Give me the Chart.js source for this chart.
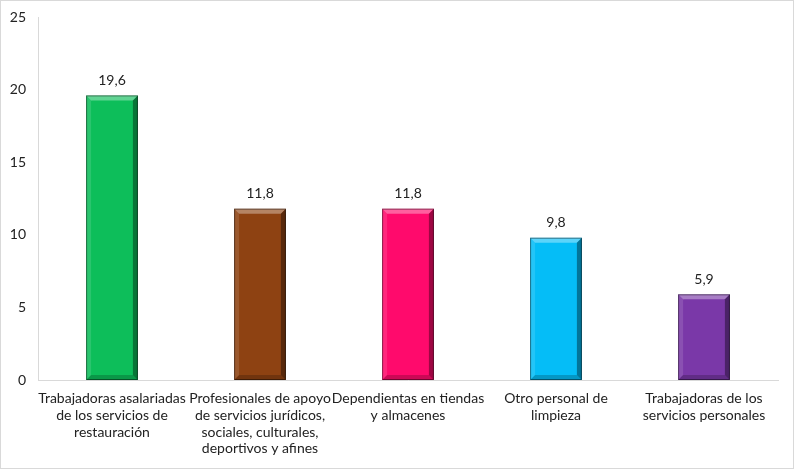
<!DOCTYPE html>
<html>
<head>
<meta charset="utf-8">
<script src="https://cdn.jsdelivr.net/npm/chart.js@4"></script>
<style>
  html, body { margin: 0; padding: 0; background: #fff; }
  .frame { width: 792px; height: 467px; border: 1px solid #d9d9d9; position: relative; }
</style>
</head>
<body>
<div class="frame">
  <canvas id="chart" width="792" height="467"></canvas>
</div>
<script>
const categories = [
  ['Trabajadoras asalariadas', 'de los servicios de', 'restauración'],
  ['Profesionales de apoyo', 'de servicios jurídicos,', 'sociales, culturales,', 'deportivos y afines'],
  ['Dependientas en tiendas', 'y almacenes'],
  ['Otro personal de', 'limpieza'],
  ['Trabajadoras de los', 'servicios personales']
];
const values = [19.6, 11.8, 11.8, 9.8, 5.9];
const barColors = ['#0DBE5A', '#8E4212', '#FF0A6C', '#05BDF7', '#7A38A8'];
const yTicks = [0, 5, 10, 15, 20, 25];

// light / dark edges on each bar, like the bevelled bars in the original
const bevelPlugin = {
  id: 'bevel',
  afterDatasetsDraw(chart) {
    const ctx = chart.ctx;
    chart.getDatasetMeta(0).data.forEach(bar => {
      const l = bar.x - bar.width / 2, r = bar.x + bar.width / 2;
      const t = bar.y, b = bar.base, s = 5;
      ctx.save();
      const poly = (pts, fill) => {
        ctx.beginPath();
        ctx.moveTo(pts[0][0], pts[0][1]);
        pts.slice(1).forEach(p => ctx.lineTo(p[0], p[1]));
        ctx.closePath();
        ctx.fillStyle = fill;
        ctx.fill();
      };
      poly([[l, t], [r, t], [r - s, t + s], [l + s, t + s]], 'rgba(255,255,255,0.35)');
      poly([[l, t], [l + s, t + s], [l + s, b - s], [l, b]], 'rgba(255,255,255,0.12)');
      poly([[r, t], [r, b], [r - s, b - s], [r - s, t + s]], 'rgba(0,0,0,0.38)');
      poly([[l, b], [l + s, b - s], [r - s, b - s], [r, b]], 'rgba(0,0,0,0.2)');
      ctx.strokeStyle = 'rgba(0,0,0,0.45)';
      ctx.lineWidth = 1;
      ctx.strokeRect(l + 0.5, t + 0.5, r - l - 1, b - t - 1);
      ctx.restore();
    });
  }
};

// value labels above the bars, decimal comma
const valueLabels = {
  id: 'valueLabels',
  afterDatasetsDraw(chart) {
    const ctx = chart.ctx;
    ctx.save();
    ctx.font = '14px Lato';
    ctx.fillStyle = '#222';
    ctx.textAlign = 'center';
    ctx.textBaseline = 'middle';
    chart.getDatasetMeta(0).data.forEach((bar, i) => {
      ctx.fillText(values[i].toFixed(1).replace('.', ','), bar.x, bar.y - 15);
    });
    ctx.restore();
  }
};

new Chart(document.getElementById('chart'), {
  type: 'bar',
  data: {
    labels: categories,
    datasets: [{
      data: values,
      backgroundColor: barColors,
      borderWidth: 0,
      barPercentage: 0.7,
      categoryPercentage: 0.5
    }]
  },
  options: {
    responsive: false,
    animation: false,
    layout: { padding: { top: 16, right: 15, left: 0, bottom: 0 } },
    plugins: { legend: { display: false }, tooltip: { enabled: false } },
    scales: {
      x: {
        grid: { display: false, drawTicks: false },
        border: { color: '#d9d9d9' },
        ticks: {
          color: '#222',
          font: { family: 'Lato', size: 14 },
          padding: 10,
          maxRotation: 0,
          minRotation: 0,
          autoSkip: false
        },
        afterFit(scale) { scale.height = 88; }
      },
      y: {
        min: 0,
        max: 25,
        afterBuildTicks(scale) { scale.ticks = yTicks.map(v => ({ value: v })); },
        grid: { display: false, drawTicks: false },
        border: { color: '#d9d9d9' },
        ticks: {
          color: '#222',
          font: { family: 'Lato', size: 14 },
          padding: 12
        },
        afterFit(scale) {
          scale.width = 37;
          scale.paddingTop = 0;
          scale.paddingBottom = 0;
        }
      }
    }
  },
  plugins: [bevelPlugin, valueLabels]
});
</script>
</body>
</html>
